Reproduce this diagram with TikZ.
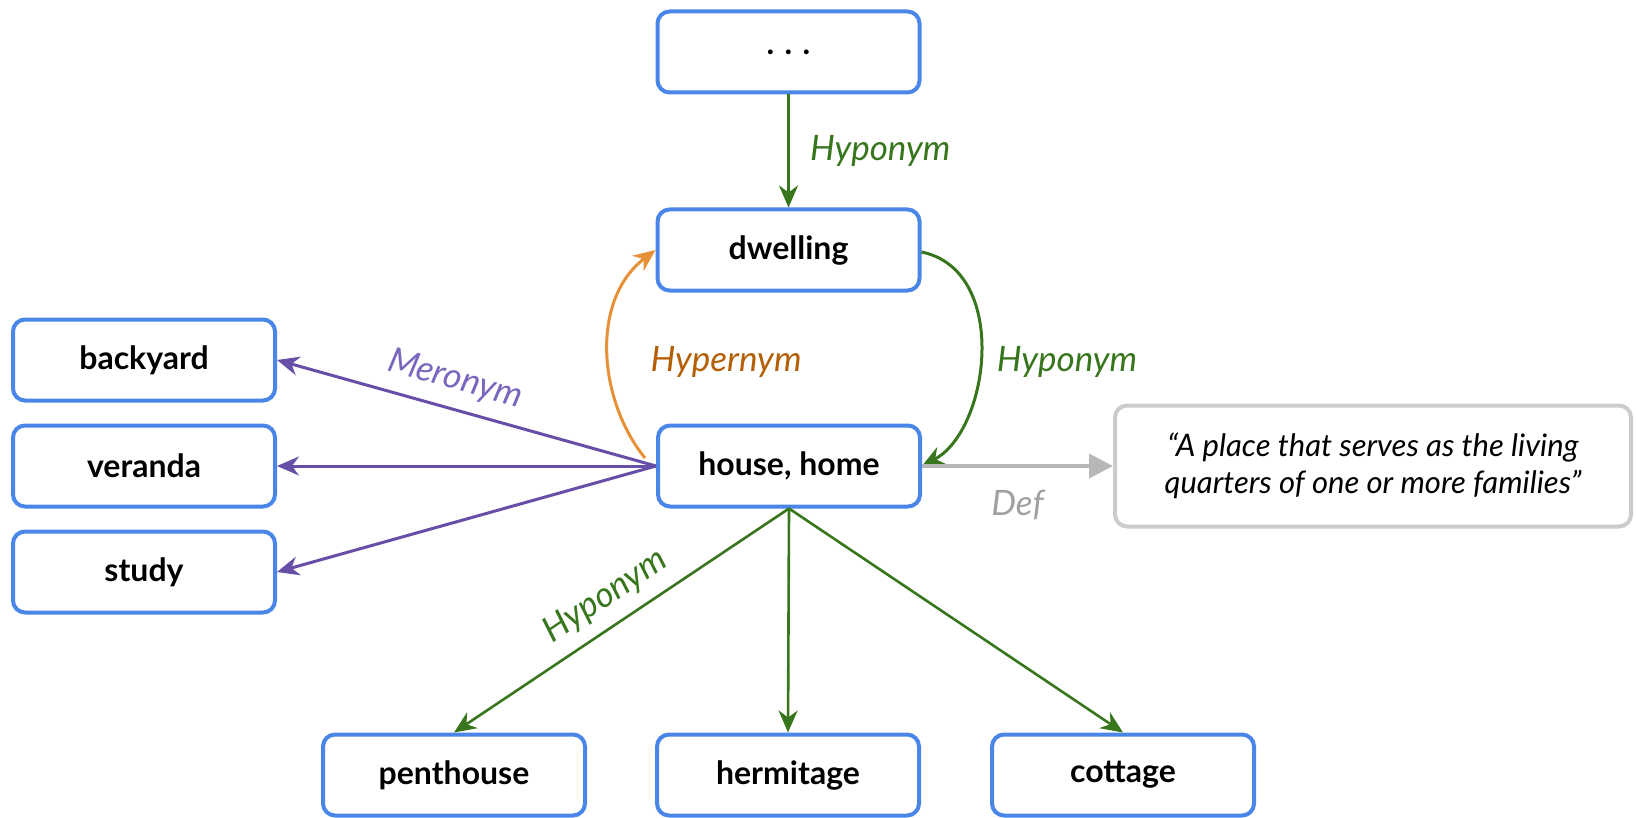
\documentclass[tikz,border=0pt]{standalone}
\usepackage{fontspec}
\setmainfont{Lato}
\usetikzlibrary{arrows.meta}

\definecolor{boxblue}{HTML}{4A86E8}
\definecolor{hypogreen}{HTML}{38761D}
\definecolor{meropurple}{HTML}{674EA7}
\definecolor{merotext}{HTML}{7A66BD}
\definecolor{hyperorange}{HTML}{E69138}
\definecolor{hypertext}{HTML}{B45F06}
\definecolor{defline}{HTML}{B7B7B7}
\definecolor{defbox}{HTML}{CCCCCC}
\definecolor{deftext}{HTML}{A0A0A0}

\tikzset{
  word/.style={draw=boxblue, line width=2pt, rounded corners=6pt,
    minimum width=131pt, minimum height=40.5pt, inner sep=0pt,
    font=\fontsize{16}{18}\selectfont\bfseries, text=black},
  gloss/.style={draw=defbox, line width=2pt, rounded corners=6pt,
    minimum width=258pt, minimum height=60.5pt, inner sep=0pt, align=center,
    font=\fontsize{15.5}{18.5}\selectfont\itshape, text=black},
  tip/.style={-{Stealth[length=11pt, width=9.5pt, inset=3.5pt]}},
  hypo/.style={tip, draw=hypogreen, line width=1.5pt},
  hyper/.style={tip, draw=hyperorange, line width=1.5pt},
  mero/.style={tip, draw=meropurple, line width=1.5pt},
  defn/.style={-{Triangle[length=12pt, width=12pt]}, draw=defline, line width=2pt},
  rel/.style={font=\fontsize{17.5}{20}\selectfont\itshape, inner sep=2pt},
}

\begin{document}
\begin{tikzpicture}[x=0.5pt, y=-0.5pt]
\useasboundingbox (0,0) rectangle (1636,818);

% synsets
\node[word] (top)       at (788.5,52)  {. . .};
\node[word] (dwelling)  at (788.5,250) {dwelling};
\node[word] (house)     at (789,466)   {house, home};
\node[word] (backyard)  at (144,360)   {backyard};
\node[word] (veranda)   at (144,466)   {veranda};
\node[word] (study)     at (144,572)   {study};
\node[word] (penthouse) at (454,775)   {penthouse};
\node[word] (hermitage) at (788,775)   {hermitage};
\node[word] (cottage)   at (1123,775)  {cottage};
\node[gloss] (def)      at (1373,466)
  {\textquotedblleft A place that serves as the living\\quarters of one or more families\textquotedblright};

% hyponym chain above
\draw[hypo] (top.south) -- node[rel, text=hypogreen, right=8pt] (lblTop) {Hyponym} (dwelling.north);

% hypernym / hyponym loop between house and dwelling
\coordinate (hstart) at (645,458);
\draw[hyper] (hstart) .. controls (598,400) and (590,300) .. (dwelling.west);
\draw[hypo] ([yshift=-1pt]dwelling.east) .. controls (1010,270) and (990,430) .. (house.east);
\node[rel, text=hypertext] (lblHyper) at (726,362) {Hypernym};
\node[rel, text=hypogreen] (lblHypoR) at (1067,362) {Hyponym};

% meronyms
\draw[mero] (house.west) -- node[rel, text=merotext, pos=0.55, sloped, above=4pt] (lblMero) {Meronym} (backyard.east);
\draw[mero] (house.west) -- (veranda.east);
\draw[mero] (house.west) -- (study.east);

% hyponyms below
\draw[hypo, line width=1.3pt] (house.south) -- node[rel, text=hypogreen, pos=0.5, sloped, above=4pt] (lblHypoD) {Hyponym} (penthouse.north);
\draw[hypo, line width=1.3pt] (house.south) -- (hermitage.north);
\draw[hypo, line width=1.3pt] (house.south) -- (cottage.north);

% definition
\draw[defn] (house.east) -- node[rel, text=deftext, below=9pt] (lblDef) {Def} (def.west);
\end{tikzpicture}
\end{document}
